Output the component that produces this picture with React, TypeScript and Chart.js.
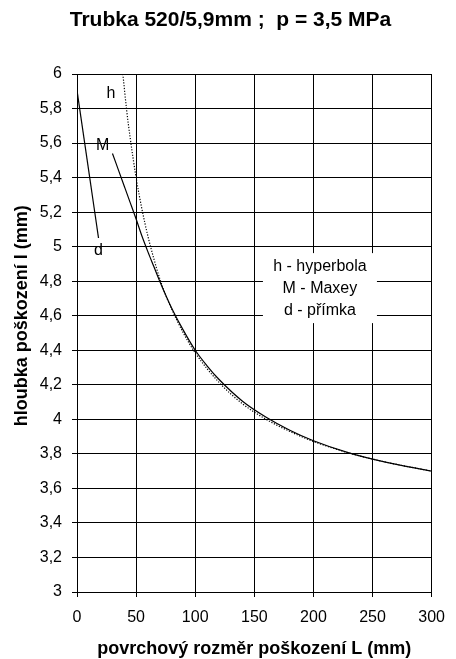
import React, { useEffect, useRef } from "react";
import { Chart, registerables } from "chart.js";

Chart.register(...registerables);

const titleText = "Trubka 520/5,9mm ;  p = 3,5 MPa";
const xTitle = "povrchový rozměr poškození L (mm)";
const yTitle = "hloubka poškození l (mm)";
const legendLines = ["h - hyperbola", "M - Maxey", "d - přímka"];

// h - hyperbola (dotted)
const hL = [38.8, 42, 45, 50, 55, 60, 65, 70, 75, 80, 90, 100, 120, 140, 160, 180, 200, 230, 260, 300];
const hV = [6.0, 5.79, 5.63, 5.40, 5.215, 5.06, 4.93, 4.815, 4.72, 4.64, 4.50, 4.385, 4.215, 4.09, 4.0, 3.93, 3.872, 3.805, 3.754, 3.70];

// M - Maxey (solid)
const mL = [30, 35, 40, 45, 50, 55, 60, 65, 70, 75, 80, 90, 100, 110, 120, 140, 160, 180, 200, 230, 260, 300];
const mV = [5.54, 5.445, 5.35, 5.255, 5.16, 5.06, 4.97, 4.885, 4.80, 4.72, 4.645, 4.515, 4.40, 4.31, 4.232, 4.105, 4.012, 3.937, 3.876, 3.806, 3.754, 3.70];

// d - přímka (straight line)
const dL = [0, 18.2];
const dV = [5.905, 5.05];

const yTicks = [3, 3.2, 3.4, 3.6, 3.8, 4, 4.2, 4.4, 4.6, 4.8, 5, 5.2, 5.4, 5.6, 5.8, 6];

const FONT = "'Liberation Sans', Arial, sans-serif";

const toPts = (xs: number[], ys: number[]) => xs.map((x, i) => ({ x, y: ys[i] }));

const curveLabels = [
  { text: "h", x: 28.8, y: 5.888 },
  { text: "M", x: 21.8, y: 5.583 },
  { text: "d", x: 18.2, y: 4.977 },
];
const legendPos = { x: 205.5, y: 4.76 };
const yTitleValue = 4.6;

const annotPlugin = {
  id: "annot",
  afterDatasetsDraw(chart: any) {
    const { ctx, scales } = chart;
    const xs = scales.x;
    const ys = scales.y;
    ctx.save();
    ctx.font = `16px ${FONT}`;
    ctx.fillStyle = "#000";
    ctx.textAlign = "center";
    ctx.textBaseline = "middle";
    curveLabels.forEach((l) => {
      ctx.fillText(l.text, xs.getPixelForValue(l.x), ys.getPixelForValue(l.y));
    });
    const cx = xs.getPixelForValue(legendPos.x);
    const cy = ys.getPixelForValue(legendPos.y);
    const lh = 22;
    ctx.fillStyle = "#fff";
    ctx.fillRect(cx - 57, cy - 35, 114, 70);
    ctx.fillStyle = "#000";
    legendLines.forEach((t, i) => {
      ctx.fillText(t, cx, cy + (i - 1) * lh);
    });
    // y axis title (rotated)
    ctx.translate(22, ys.getPixelForValue(yTitleValue));
    ctx.rotate(-Math.PI / 2);
    ctx.font = `bold 18px ${FONT}`;
    ctx.fillText(yTitle, 0, 0);
    ctx.restore();
  },
};

export default function App() {
  const ref = useRef<HTMLCanvasElement | null>(null);
  useEffect(() => {
    if (!ref.current) return;
    const chart = new Chart(ref.current, {
      type: "scatter",
      data: {
        datasets: [
          {
            label: "h",
            data: toPts(hL, hV),
            showLine: true,
            borderColor: "#000",
            borderWidth: 1.2,
            borderDash: [1.2, 1.6],
            pointRadius: 0,
            cubicInterpolationMode: "monotone",
          },
          {
            label: "M",
            data: toPts(mL, mV),
            showLine: true,
            borderColor: "#000",
            borderWidth: 1.2,
            pointRadius: 0,
            cubicInterpolationMode: "monotone",
          },
          {
            label: "d",
            data: toPts(dL, dV),
            showLine: true,
            borderColor: "#000",
            borderWidth: 1.2,
            pointRadius: 0,
          },
        ],
      },
      options: {
        responsive: false,
        animation: false,
        layout: { padding: { left: 22, right: 17, top: 0, bottom: 0 } },
        plugins: {
          legend: { display: false },
          tooltip: { enabled: false },
          title: {
            display: true,
            text: titleText,
            color: "#000",
            font: { family: FONT, size: 21, weight: "bold" },
            padding: { top: 7.4, bottom: 41.4 },
          },
        },
        scales: {
          x: {
            type: "linear",
            min: 0,
            max: 300,
            afterFit: (s: any) => {
              s.height = 67;
            },
            ticks: {
              stepSize: 50,
              color: "#000",
              font: { family: FONT, size: 16 },
              padding: 11,
              maxRotation: 0,
            },
            grid: { color: "#000", lineWidth: 1, tickLength: 5, drawTicks: true },
            border: { color: "#000", width: 1 },
            title: {
              display: true,
              text: xTitle,
              color: "#000",
              font: { family: FONT, size: 18, weight: "bold" },
              padding: { top: 0, bottom: -1 },
            },
          },
          y: {
            type: "linear",
            min: 3,
            max: 6,
            afterFit: (s: any) => {
              s.width = 55;
            },
            afterBuildTicks: (s: any) => {
              s.ticks = yTicks.map((v) => ({ value: v }));
            },
            ticks: {
              color: "#000",
              font: { family: FONT, size: 16 },
              padding: 10,
              callback: (v: any) => String(Math.round(Number(v) * 10) / 10).replace(".", ","),
            },
            grid: { color: "#000", lineWidth: 1, tickLength: 5, drawTicks: true },
            border: { color: "#000", width: 1 },
          },
        },
      },
      plugins: [annotPlugin],
    } as any);
    return () => chart.destroy();
  }, []);
  return (
    <div style={{ position: "absolute", left: 0, top: 0, width: 456, height: 659, background: "#fff" }}>
      <canvas ref={ref} width={456} height={659} style={{ display: "block" }} />
    </div>
  );
}
